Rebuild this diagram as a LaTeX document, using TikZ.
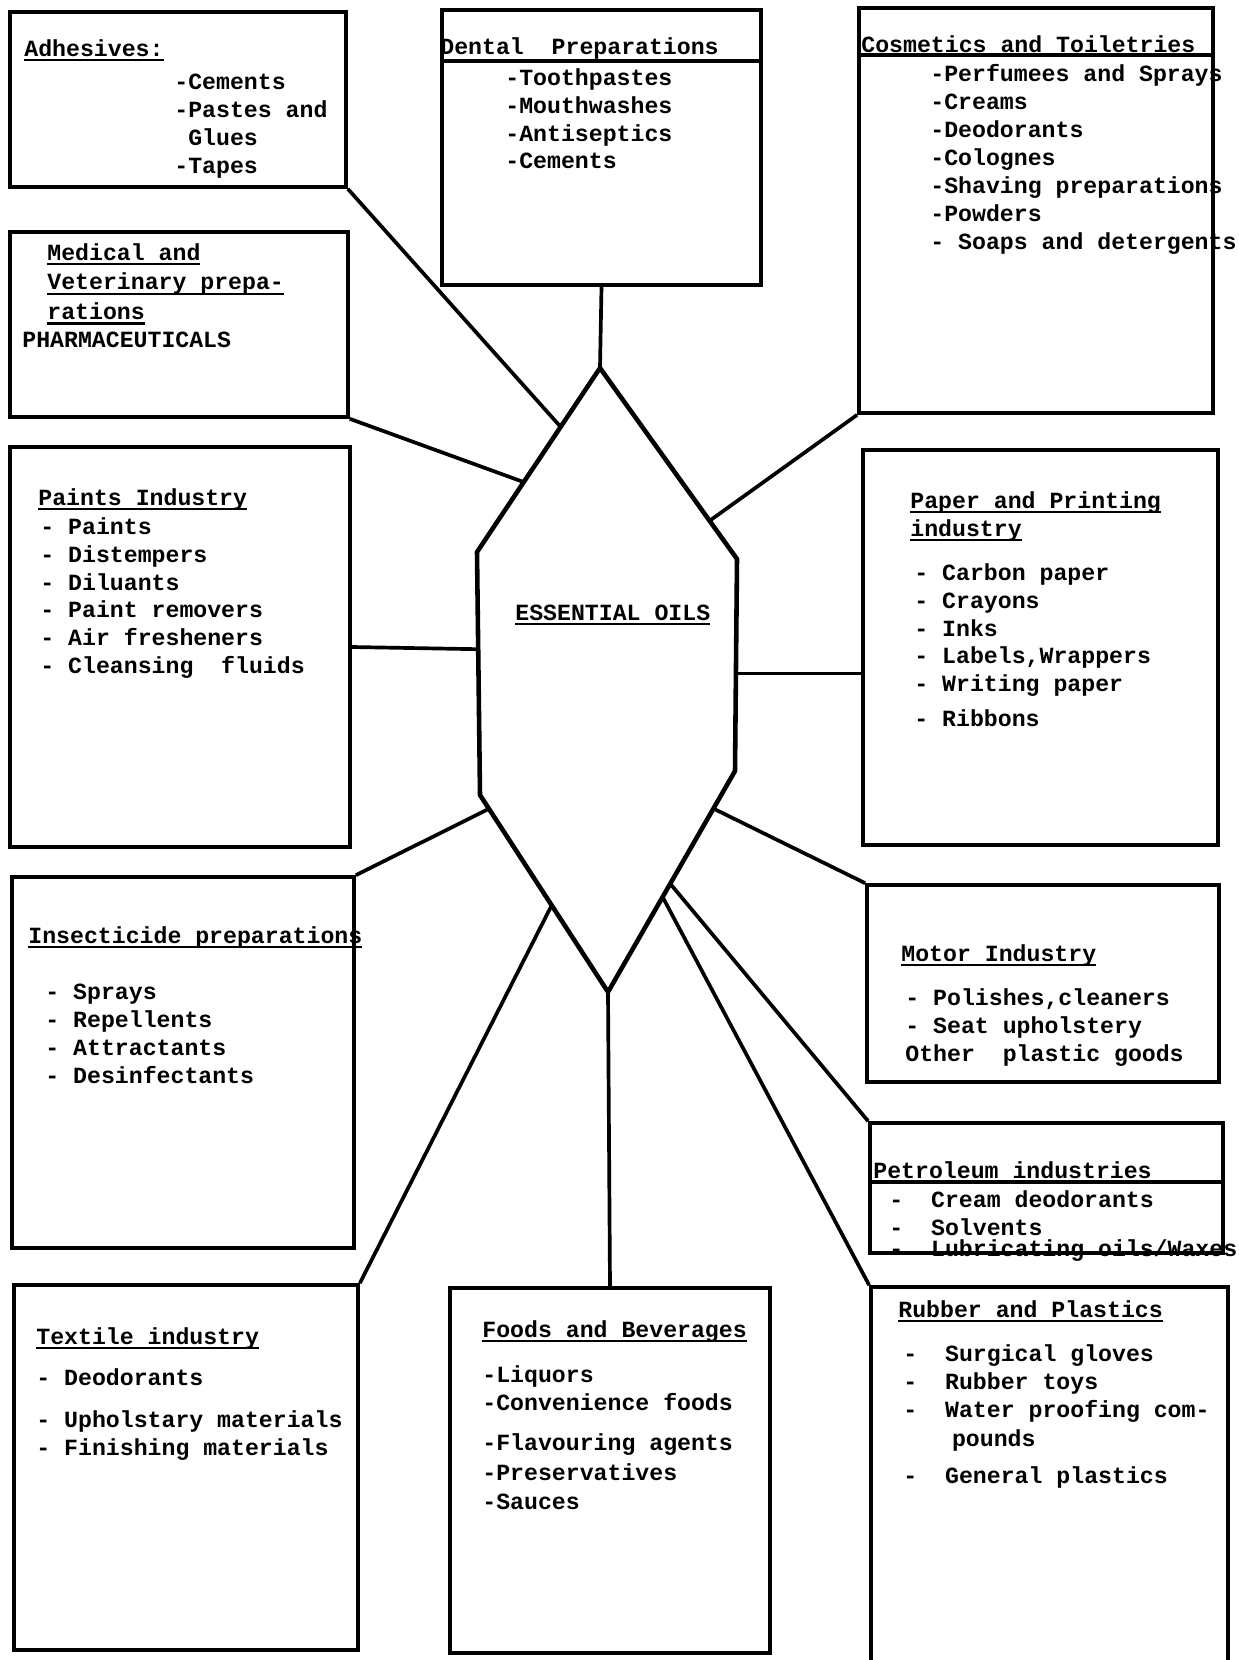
\documentclass[tikz,border=0pt]{standalone}
\usepackage{fontspec}
\setmainfont{Liberation Mono}
\usetikzlibrary{fit,calc}
\newcommand\ulin[1]{\setbox0\hbox{#1}\rlap{\rule[-3pt]{\wd0}{1.4pt}}\box0}
\tikzset{
	bx/.style={draw, line width=2.1pt, inner sep=0pt},
	tx/.style={anchor=north west, inner sep=0pt, align=left, font=\fontsize{13.2}{15.9}\selectfont\bfseries},
	cn/.style={line width=2.1pt},
	hx/.style={line width=2.6pt, line join=round},
}

\begin{document}
\begin{tikzpicture}[x=0.02cm, y=-0.02cm]
	\useasboundingbox (0,0) rectangle (1238,1660);

	\node[bx, fit={(10,12) (346,187)}] (adh) {};
	\node[bx, fit={(442,10) (761,285)}] (dnt) {};
	\node[bx, fit={(859,8) (1213,413)}] (cos) {};
	\node[bx, fit={(10,232) (348,417)}] (med) {};
	\node[bx, fit={(10,447) (350,847)}] (pnt) {};
	\node[bx, fit={(863,450) (1218,845)}] (ppr) {};
	\node[bx, fit={(12,877) (354,1248)}] (ins) {};
	\node[bx, fit={(867,885) (1219,1082)}] (mot) {};
	\node[bx, fit={(870,1123) (1223,1253)}] (pet) {};
	\node[bx, fit={(14,1285) (358,1650)}] (tex) {};
	\node[bx, fit={(450,1288) (770,1653)}] (fds) {};
	\node[bx, fit={(871,1287) (1228,1680)}] (rub) {};

	\draw[cn] (dnt.west |- 0,61) -- (dnt.east |- 0,61);
	\draw[cn] (cos.west |- 0,55) -- (cos.east |- 0,55);
	\draw[cn] (pet.west |- 0,1182) -- (pet.east |- 0,1182);

	\node[tx] (adht) at (24,39) {\ulin{Adhesives:}};
	\node[tx] (adhl) at (174,74) {-Cements\\-Pastes and\\\hspace*{0.6em}Glues\\-Tapes};
	\node[tx] (dntt) at (440,37) {Dental\ \ Preparations};
	\node[tx] (dntl) at (505,68) {-Toothpastes\\-Mouthwashes\\-Antiseptics\\-Cements};
	\node[tx] (cost) at (861,35) {Cosmetics and Toiletries};
	\node[tx] (cosl) at (930,64) {-Perfumees and Sprays\\-Creams\\-Deodorants\\-Colognes\\-Shaving preparations\\-Powders\\- Soaps and detergents};
	\node[tx] (medt) at (47,243) {\ulin{Medical and}\\[1pt]\ulin{Veterinary prepa-}\\[1pt]\ulin{rations}};
	\node[tx] (medl) at (22,332) {PHARMACEUTICALS};
	\node[tx] (pntt) at (38,488) {\ulin{Paints Industry}};
	\node[tx] (pntl) at (40,517) {- Paints\\- Distempers\\- Diluants\\- Paint removers\\- Air fresheners\\- Cleansing\ \ fluids};
	\node[tx] (pprt) at (910,491) {\ulin{Paper and Printing}\\\ulin{industry}};
	\node[tx] (pprl) at (914,563) {- Carbon paper\\- Crayons\\- Inks\\- Labels,Wrappers\\- Writing paper\\[4pt]- Ribbons};
	\node[tx] (inst) at (28,926) {\ulin{Insecticide preparations}};
	\node[tx] (insl) at (45,984) {- Sprays\\- Repellents\\- Attractants\\- Desinfectants};
	\node[tx] (mott) at (901,944) {\ulin{Motor Industry}};
	\node[tx] (motl) at (905,988) {- Polishes,cleaners\\- Seat upholstery\\Other\ \ plastic goods};
	\node[tx] (pett) at (873,1161) {Petroleum industries};
	\node[tx] (petl) at (889,1190) {-\ \ Cream deodorants\\-\ \ Solvents\\[-4pt]-\ \ Lubricating oils/Waxes};
	\node[tx] (text) at (36,1327) {\ulin{Textile industry}};
	\node[tx] (texl) at (36,1368) {- Deodorants\\[8pt]- Upholstary materials\\- Finishing materials};
	\node[tx] (fdst) at (482,1320) {\ulin{Foods and Beverages}};
	\node[tx] (fdsl) at (482,1365) {-Liquors\\-Convenience foods\\[7pt]-Flavouring agents\\[1pt]-Preservatives\\[1pt]-Sauces};
	\node[tx] (rubt) at (898,1300) {\ulin{Rubber and Plastics}};
	\node[tx] (rubl) at (903,1344) {-\ \ Surgical gloves\\-\ \ Rubber toys\\-\ \ Water proofing com-\\[1pt]\hspace*{2.1em}pounds\\[5pt]-\ \ General plastics};

	\coordinate (hT) at (600,368);
	\coordinate (hUL) at (477,552);
	\coordinate (hLL) at (480,795);
	\coordinate (hB) at (608,992);
	\coordinate (hLR) at (735,771);
	\coordinate (hUR) at (737,559);
	\draw[hx] (hT) -- (hUL) -- (hLL) -- (hB) -- (hLR) -- (hUR) -- cycle;
	\node[tx, anchor=west] (eo) at (515,615) {\ulin{ESSENTIAL OILS}};

	\coordinate (cAdh) at ($(hT)!0.32!(hUL)$);
	\coordinate (cMed) at ($(hT)!0.62!(hUL)$);
	\coordinate (cPnt) at ($(hUL)!0.4!(hLL)$);
	\coordinate (cIns) at ($(hLL)!0.07!(hB)$);
	\coordinate (cTex) at ($(hLL)!0.56!(hB)$);
	\coordinate (cRub) at ($(hLR)!0.57!(hB)$);
	\coordinate (cPet) at ($(hLR)!0.51!(hB)$);
	\coordinate (cMot) at ($(hLR)!0.17!(hB)$);
	\coordinate (cPpr) at ($(hUR)!0.54!(hLR)$);
	\coordinate (cCos) at ($(hT)!0.8!(hUR)$);

	\draw[cn] (adh.south east) -- (cAdh);
	\draw[cn] (med.south east) -- (cMed);
	\draw[cn] (dnt.south) -- (hT);
	\draw[cn] (cos.south west) -- (cCos);
	\draw[cn] (pnt.east) -- (cPnt);
	\draw[cn] (cPpr) -- (cPpr -| ppr.west);
	\draw[cn] (ins.north east) -- (cIns);
	\draw[cn] (tex.north east) -- (cTex);
	\draw[cn] (hB) -- (fds.north);
	\draw[cn] (cMot) -- (mot.north west);
	\draw[cn] (cPet) -- (pet.north west);
	\draw[cn] (cRub) -- (rub.north west);
\end{tikzpicture}
\end{document}
